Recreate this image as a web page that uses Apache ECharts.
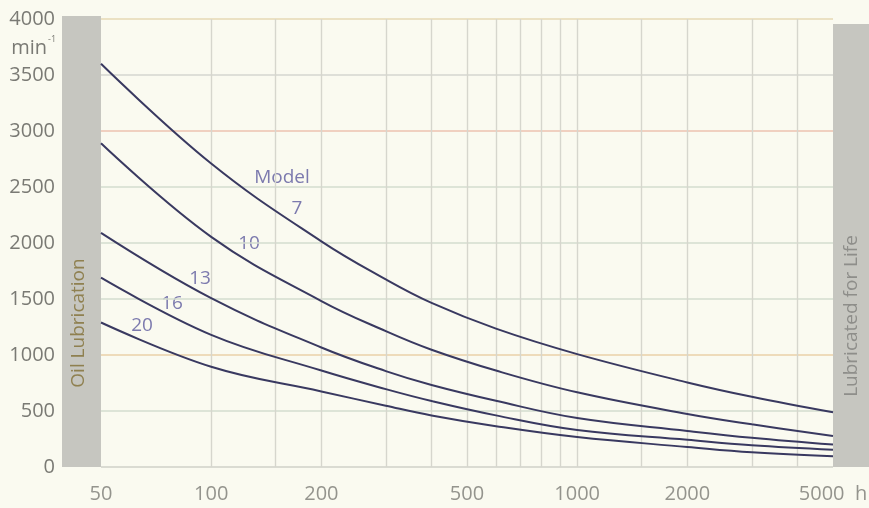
<!DOCTYPE html>
<html>
<head>
<meta charset="utf-8">
<script src="https://cdn.jsdelivr.net/npm/echarts@6/dist/echarts.min.js"></script>
<style>
  html, body { margin: 0; padding: 0; background: #fafaf0; }
  #chart { width: 869px; height: 508px; }
</style>
</head>
<body>
<div id="chart"></div>
<script>
// operating hours (h) where the curves were read
var hours = [50, 100, 200, 300, 400, 600, 1000, 2000, 3000, 5000];

// speed (min^-1) per model, read against the grid lines
var model7  = [3600, 2710, 2015, 1675, 1465, 1235, 1008, 755, 627, 488];
var model10 = [2890, 2055, 1482, 1213, 1047, 861, 667, 474, 381, 276];
var model13 = [2090, 1507, 1067, 856, 732, 591, 437, 322, 261, 200];
var model16 = [1690, 1180, 861, 695, 589, 461, 331, 243, 195, 155];
var model20 = [1290, 895, 675, 547, 460, 364, 267, 179, 131, 95];

var xTickLabels = [50, 100, 200, 500, 1000, 2000, 5000];
var xGridLines = [100, 150, 200, 300, 400, 500, 600, 700, 800, 900, 1000, 1500, 2000, 3000, 4000];

var font = '"Open Sans", "Noto Sans", sans-serif';
var lineColor = '#393960';
var labelColor = '#7c7aae';
var tickColor = '#7a7a74';

var chart = echarts.init(document.getElementById('chart'));

function curve(vals) {
    return {
        type: 'line',
        smooth: 0.4,
        showSymbol: false,
        silent: true,
        lineStyle: { color: lineColor, width: 2 },
        data: hours.map(function (h, i) { return [h, vals[i]]; }),
        z: 5
    };
}

var series = [model7, model10, model13, model16, model20].map(curve);

// vertical grid lines on the log axis
series.push({
    type: 'line',
    data: [],
    silent: true,
    markLine: {
        silent: true,
        symbol: 'none',
        label: { show: false },
        lineStyle: { color: '#d6d6cd', width: 1.4, type: 'solid' },
        data: xGridLines.map(function (v) { return { xAxis: v }; })
    },
    z: 1
});

// x tick labels
series.push({
    type: 'scatter',
    silent: true,
    symbolSize: 1,
    itemStyle: { color: 'rgba(0,0,0,0)' },
    data: xTickLabels.map(function (v) { return [v, 0]; }),
    label: {
        show: true,
        position: 'bottom',
        distance: 17,
        fontFamily: font,
        fontSize: 20,
        color: tickColor,
        formatter: function (p) { return p.value[0] === 5000 ? '5000  h' : String(p.value[0]); }
    }
});

function tag(text, x, y) {
    return {
        type: 'text', x: x, y: y,
        style: { text: text, fontFamily: font, fontSize: 19, fill: labelColor, align: 'center', verticalAlign: 'middle' }
    };
}

var option = {
    backgroundColor: '#fafaf0',
    animation: false,
    grid: { left: 101, right: 36, top: 19, bottom: 41 },
    xAxis: {
        type: 'log',
        logBase: 10,
        min: 50,
        max: 5000,
        axisLine: { show: false },
        axisTick: { show: false },
        axisLabel: { show: false },
        splitLine: { show: false }
    },
    yAxis: {
        type: 'value',
        min: 0,
        max: 4000,
        interval: 500,
        axisLine: { show: false },
        axisTick: { show: false },
        axisLabel: {
            fontFamily: font, fontSize: 20, color: tickColor, margin: 46,
            formatter: function (v) { return String(v); }
        },
        splitLine: {
            lineStyle: {
                width: 1.5,
                color: ['#cfd0c8', '#d3dccf', '#ead0a8', '#d3dccf', '#d3dccf', '#d3dccf', '#ecc2b0', '#d4d6d0', '#e6d8b4']
            }
        }
    },
    graphic: [
        { type: 'rect', shape: { x: 62, y: 16, width: 39, height: 451 }, style: { fill: '#c6c6c0' }, z: 0 },
        { type: 'rect', shape: { x: 833, y: 24, width: 36, height: 443 }, style: { fill: '#c6c6c0' }, z: 0 },
        { type: 'text', x: 79, y: 323, rotation: Math.PI / 2, style: { text: 'Oil Lubrication', fontFamily: font, fontSize: 19, fill: '#8f8050', align: 'center', verticalAlign: 'middle' } },
        { type: 'text', x: 852, y: 316, rotation: Math.PI / 2, style: { text: 'Lubricated for Life', fontFamily: font, fontSize: 19, fill: '#8e8e8a', align: 'center', verticalAlign: 'middle' } },
        { type: 'text', x: 47, y: 48, style: { text: 'min', fontFamily: font, fontSize: 20, fill: tickColor, align: 'right', verticalAlign: 'middle' } },
        { type: 'text', x: 48, y: 39, style: { text: '-1', fontFamily: font, fontSize: 9, fill: tickColor, align: 'left', verticalAlign: 'middle' } },
        tag('Model', 282, 178),
        tag('7', 297, 209),
        tag('10', 249, 244),
        tag('13', 200, 279),
        tag('16', 172, 304),
        tag('20', 142, 326)
    ],
    series: series
};

chart.setOption(option);
</script>
</body>
</html>
